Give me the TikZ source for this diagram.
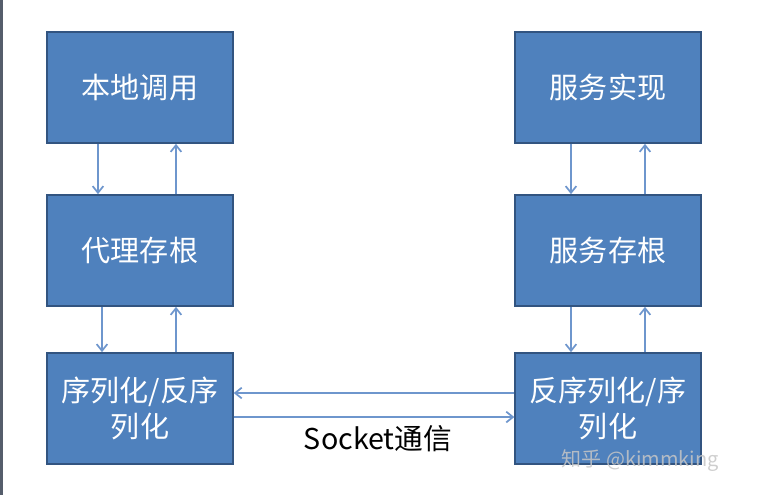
\documentclass[tikz,border=0pt]{standalone}
\usepackage{fontspec}
\newfontfamily\cjk{Noto Sans CJK SC}
\usetikzlibrary{arrows.meta, positioning}
\definecolor{boxblue}  {RGB}{ 79,129,189}
\definecolor{boxedge}  {RGB}{ 50, 84,128}
\definecolor{arrblue}  {RGB}{110,150,205}
\definecolor{edgegray} {RGB}{ 85, 93,107}

\begin{document}
\begin{tikzpicture}[
  x=0.75pt, y=-0.75pt,
  blk/.style={rectangle, fill=boxblue, draw=boxedge, line width=1.5pt,
    minimum width=139pt, minimum height=83pt, align=center,
    text=white, font=\cjk\fontsize{21.8}{27}\selectfont, inner sep=2pt},
  arr/.style={draw=arrblue, line width=1.3pt,
    -{Straight Barb[length=5pt, width=8pt]}},
  lbl/.style={font=\cjk\fontsize{21.5}{24}\selectfont, text=black},
]
\useasboundingbox (0,0) rectangle (758,495);
\fill[edgegray] (0,0) rectangle (3,495);

%% ── Client side ─────────────────────────────────────────────────────────────
\node[blk] (local) at (140, 87.5)  {本地调用};
\node[blk] (stub)  at (140, 250.5) {代理存根};
\node[blk] (ser)   at (140, 408.5) {序列化/反序\\列化};

%% ── Server side ─────────────────────────────────────────────────────────────
\node[blk] (impl)  at (608, 87.5)  {服务实现};
\node[blk] (skel)  at (608, 250.5) {服务存根};
\node[blk] (deser) at (608, 408.5) {反序列化/序\\列化};

%% ── Vertical links ──────────────────────────────────────────────────────────
\draw[arr] ([xshift=-31.5pt]local.south) -- ([xshift=-31.5pt]stub.north);
\draw[arr] ([xshift=27pt]stub.north)     -- ([xshift=27pt]local.south);
\draw[arr] ([xshift=-28.5pt]stub.south)  -- ([xshift=-28.5pt]ser.north);
\draw[arr] ([xshift=27pt]ser.north)      -- ([xshift=27pt]stub.south);

\draw[arr] ([xshift=-27.75pt]impl.south) -- ([xshift=-27.75pt]skel.north);
\draw[arr] ([xshift=27.75pt]skel.north)  -- ([xshift=27.75pt]impl.south);
\draw[arr] ([xshift=-27.75pt]skel.south) -- ([xshift=-27.75pt]deser.north);
\draw[arr] ([xshift=27.75pt]deser.north) -- ([xshift=27.75pt]skel.south);

%% ── Socket link ─────────────────────────────────────────────────────────────
\draw[arr] ([yshift=11.6pt]deser.west) -- ([yshift=11.6pt]ser.east);
\draw[arr] ([yshift=-6.4pt]ser.east)   -- ([yshift=-6.4pt]deser.west);
\node[lbl] (sock) at (378, 439) {Socket通信};

%% ── Watermark ───────────────────────────────────────────────────────────────
\node[font=\cjk\fontsize{15}{18}\selectfont, text=gray!45, opacity=0.85,
      anchor=west] (mark) at (557, 461) {知乎 @kimmking};

\end{tikzpicture}
\end{document}
